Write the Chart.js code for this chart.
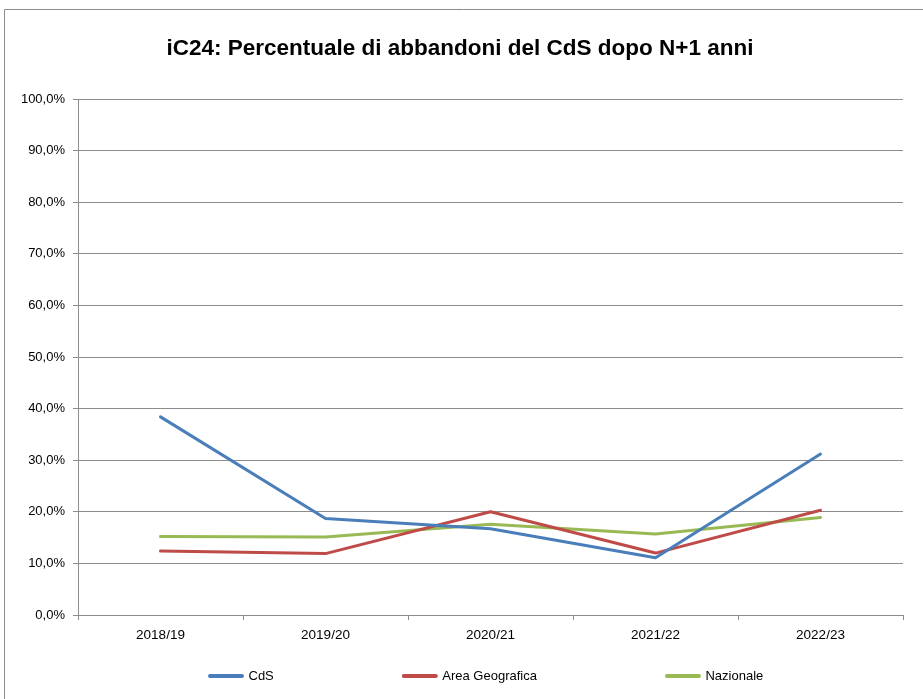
<!DOCTYPE html>
<html>
<head>
<meta charset="utf-8">
<script src="https://cdn.jsdelivr.net/npm/chart.js@4/dist/chart.umd.min.js"></script>
<style>
html, body { margin: 0; padding: 0; background: #ffffff; }
canvas { display: block; }
</style>
</head>
<body>
<canvas id="c" width="923" height="699"></canvas>
<script>
// ---- data ----
const chartTitle = 'iC24: Percentuale di abbandoni del CdS dopo N+1 anni';
const categories = ['2018/19', '2019/20', '2020/21', '2021/22', '2022/23'];
const seriesNames = ['CdS', 'Area Geografica', 'Nazionale'];
const cdsValues = [38.4, 18.7, 16.7, 11.1, 31.2];
const areaValues = [12.4, 11.9, 20.0, 12.0, 20.3];
const nazionaleValues = [15.2, 15.1, 17.6, 15.7, 18.9];
const yTickValues = [0, 10, 20, 30, 40, 50, 60, 70, 80, 90, 100];

const FONT = "'Liberation Sans', Arial, sans-serif";
const GRID = '#8c8c8c';

const framePlugin = {
  id: 'frame',
  beforeDraw(chart) {
    const ctx = chart.ctx;
    ctx.save();
    ctx.fillStyle = '#ffffff';
    ctx.fillRect(0, 0, chart.width, chart.height);
    ctx.strokeStyle = '#8c8c8c';
    ctx.lineWidth = 1;
    ctx.beginPath();
    ctx.moveTo(4.5, chart.height);
    ctx.lineTo(4.5, 9.5);
    ctx.lineTo(chart.width, 9.5);
    ctx.stroke();
    ctx.restore();
  },
  afterLayout(chart) {
    const lg = chart.legend;
    if (lg && lg.lineWidths) {
      const p = lg.options.labels.padding;
      const lw = lg.lineWidths[0];
      lg.left = 209 - p;
      lg.right = lg.left + lw + p + 2;
      lg.width = lg.right - lg.left;
      lg.top = 669.5 - p;
      lg.bottom = chart.height;
      lg.height = lg.bottom - lg.top;
    }
    const t = chart.titleBlock;
    if (t) { t.left = 0; t.right = 920; t.width = 920; }
  }
};

new Chart(document.getElementById('c'), {
  type: 'line',
  data: {
    labels: categories,
    datasets: [
      { label: seriesNames[0], data: cdsValues, borderColor: '#4A7EBB', backgroundColor: '#4A7EBB' },
      { label: seriesNames[1], data: areaValues, borderColor: '#BE4B48', backgroundColor: '#BE4B48' },
      { label: seriesNames[2], data: nazionaleValues, borderColor: '#98B954', backgroundColor: '#98B954' }
    ]
  },
  options: {
    responsive: false,
    animation: false,
    devicePixelRatio: 1,
    layout: { padding: { top: 0, left: 0, right: 20, bottom: 14 } },
    elements: {
      line: { borderWidth: 3, tension: 0, borderCapStyle: 'round', borderJoinStyle: 'round', fill: false },
      point: { radius: 0, hoverRadius: 0 }
    },
    plugins: {
      title: {
        display: true,
        text: chartTitle,
        color: '#000000',
        font: { family: FONT, size: 22.5, weight: 'bold' },
        padding: { top: 35, bottom: 37 }
      },
      legend: {
        display: true,
        position: 'bottom',
        maxHeight: 30,
        labels: {
          color: '#000000',
          font: { family: FONT, size: 13 },
          usePointStyle: true,
          pointStyle: 'line',
          pointStyleWidth: 32,
          padding: 130,
          generateLabels(chart) {
            const items = Chart.defaults.plugins.legend.labels.generateLabels(chart);
            items.forEach(it => { it.lineWidth = 4; it.lineCap = 'round'; it.pointStyle = 'line'; });
            return items;
          }
        }
      },
      tooltip: { enabled: false }
    },
    scales: {
      x: {
        type: 'category',
        offset: true,
        grid: { display: true, offset: true, drawOnChartArea: false, drawTicks: true, tickLength: 5, color: GRID },
        border: { display: true, color: GRID },
        ticks: { color: '#000000', font: { family: FONT, size: 13.5 }, padding: 7, maxRotation: 0, autoSkip: false },
        afterFit(s) { s.height = 40; }
      },
      y: {
        min: 0,
        max: 100,
        grid: { display: true, color: GRID, drawTicks: true, tickLength: 5 },
        border: { display: true, color: GRID },
        ticks: {
          color: '#000000',
          font: { family: FONT, size: 13 },
          padding: 8,
          callback: v => v.toFixed(1).replace('.', ',') + '%'
        },
        afterBuildTicks(s) { s.ticks = yTickValues.map(v => ({ value: v })); },
        afterFit(s) { s.width = 78; }
      }
    }
  },
  plugins: [framePlugin]
});
</script>
</body>
</html>
